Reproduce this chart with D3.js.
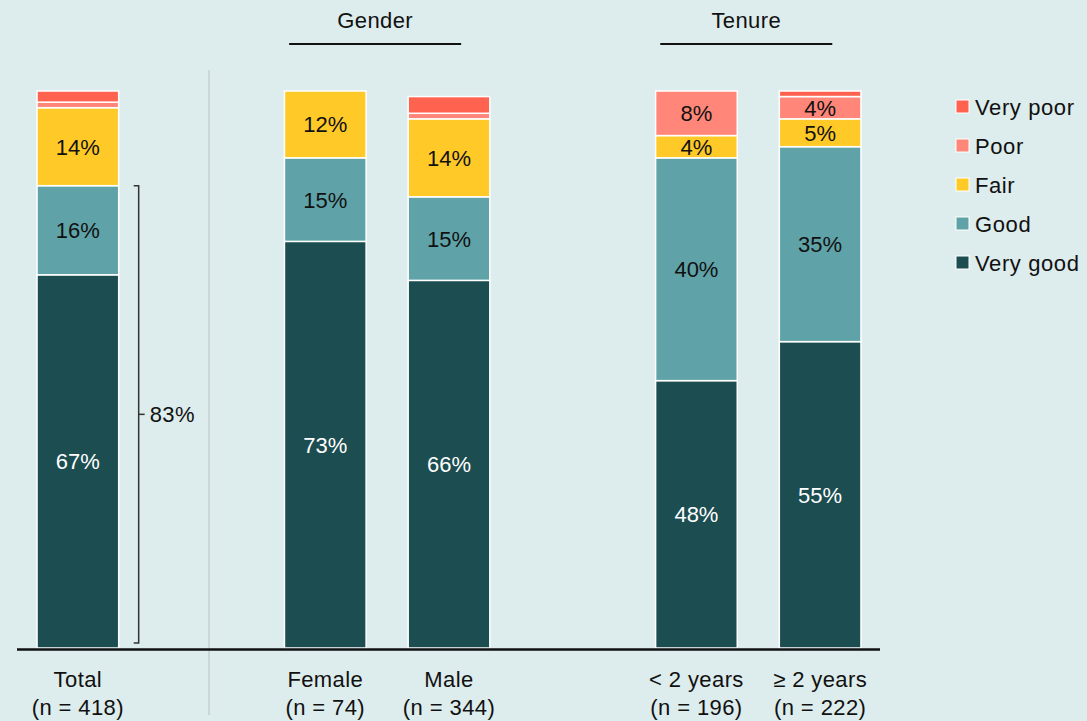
<!DOCTYPE html>
<html>
<head>
<meta charset="utf-8">
<script src="https://cdn.jsdelivr.net/npm/d3@7"></script>
<style>
  body { margin: 0; background: #ddecec; }
  svg { display: block; font-family: "Liberation Sans", Arial, sans-serif; }
</style>
</head>
<body>
<div id="chart"></div>
<script>
// groups in display order; gaps are empty slots between groups
const slots = ['Total', 'gap1', 'Female', 'Male', 'gap2', '< 2 years', '≥ 2 years'];
const categories = ['Total', 'Female', 'Male', '< 2 years', '≥ 2 years'];
const sampleSizes = ['(n = 418)', '(n = 74)', '(n = 344)', '(n = 196)', '(n = 222)'];
const levels = ['Very good', 'Good', 'Fair', 'Poor', 'Very poor'];
const veryGood = [67, 73, 66, 48, 55];
const good = [16, 15, 15, 40, 35];
const fair = [14, 12, 14, 4, 5];
const poor = [1, 0, 1, 8, 4];
const veryPoor = [2, 0, 3, 0, 1];
const colors = ['#1c4d51', '#5fa3a8', '#ffca28', '#ff8679', '#ff6350'];
const groupHeaders = [
    { label: 'Gender', from: 'Female', to: 'Male' },
    { label: 'Tenure', from: '< 2 years', to: '≥ 2 years' }
];
const bracketValue = 83;

const width = 1087, height = 721;
const svg = d3.select('#chart').append('svg')
    .attr('width', width)
    .attr('height', height);

svg.append('rect').attr('width', width).attr('height', height).attr('fill', '#ddecec');

const x = d3.scaleBand().domain(slots).range([16, 882])
    .paddingInner(0.34).paddingOuter(0.17);
const y = d3.scaleLinear().domain([0, 100]).range([648, 91]);

const series = [veryGood, good, fair, poor, veryPoor];
const rows = categories.map((c, i) => {
    const r = { cat: c };
    levels.forEach((l, j) => r[l] = series[j][i]);
    return r;
});
const stacked = d3.stack().keys(levels)(rows);

// separator between Total and groups
svg.append('line')
    .attr('x1', 209).attr('x2', 209).attr('y1', 70).attr('y2', 715)
    .attr('stroke', '#c5cfcf').attr('stroke-width', 1.5);

const layer = svg.append('g').selectAll('g')
    .data(stacked)
    .enter().append('g')
    .attr('fill', (d, i) => colors[i]);

layer.selectAll('rect')
    .data(d => d.filter(s => s[1] - s[0] > 0))
    .enter().append('rect')
    .attr('x', d => x(d.data.cat))
    .attr('y', d => y(d[1]))
    .attr('width', x.bandwidth())
    .attr('height', d => y(d[0]) - y(d[1]))
    .attr('stroke', '#fff')
    .attr('stroke-width', 1.5);

stacked.forEach((s, i) => {
    svg.append('g').selectAll('text')
        .data(s.filter(d => d[1] - d[0] >= 4))
        .enter().append('text')
        .attr('x', d => x(d.data.cat) + x.bandwidth() / 2)
        .attr('y', d => y((d[0] + d[1]) / 2))
        .attr('dy', '0.36em')
        .attr('text-anchor', 'middle')
        .attr('font-size', 22)
        .attr('fill', i === 0 ? '#fff' : '#111')
        .text(d => (d[1] - d[0]) + '%');
});

// baseline
svg.append('line')
    .attr('x1', 17).attr('x2', 880).attr('y1', y(0) + 1.5).attr('y2', y(0) + 1.5)
    .attr('stroke', '#111').attr('stroke-width', 2.5);

// category labels
const lab = svg.append('g').selectAll('text')
    .data(categories)
    .enter().append('text')
    .attr('x', d => x(d) + x.bandwidth() / 2)
    .attr('text-anchor', 'middle')
    .attr('font-size', 22)
    .attr('letter-spacing', 0.4)
    .attr('fill', '#111');
lab.append('tspan').attr('x', d => x(d) + x.bandwidth() / 2).attr('y', 687).text(d => d);
lab.append('tspan').attr('x', d => x(d) + x.bandwidth() / 2).attr('y', 715).text((d, i) => sampleSizes[i]);

// group headers
groupHeaders.forEach(g => {
    const cx = (x(g.from) + x(g.to) + x.bandwidth()) / 2 - 12;
    svg.append('text')
        .attr('x', cx).attr('y', 28)
        .attr('text-anchor', 'middle')
        .attr('font-size', 22)
        .attr('letter-spacing', 0.4)
        .attr('fill', '#111')
        .text(g.label);
    svg.append('line')
        .attr('x1', cx - 86).attr('x2', cx + 86).attr('y1', 44).attr('y2', 44)
        .attr('stroke', '#111').attr('stroke-width', 2);
});

// bracket for Very good + Good on Total
const bx = x('Total') + x.bandwidth() + 20;
const bTop = y(bracketValue), bBot = y(0) - 5;
svg.append('path')
    .attr('d', `M${bx - 5},${bTop}H${bx}V${bBot}H${bx - 5}`)
    .attr('fill', 'none').attr('stroke', '#333').attr('stroke-width', 1.5);
svg.append('line')
    .attr('x1', bx).attr('x2', bx + 6)
    .attr('y1', (bTop + bBot) / 2).attr('y2', (bTop + bBot) / 2)
    .attr('stroke', '#333').attr('stroke-width', 1.5);
svg.append('text')
    .attr('x', bx + 11).attr('y', (bTop + bBot) / 2)
    .attr('dy', '0.36em')
    .attr('font-size', 22)
    .attr('letter-spacing', 0.4)
    .attr('fill', '#111')
    .text(bracketValue + '%');

// legend, top to bottom from worst to best
const legendOrder = levels.slice().reverse();
const legend = svg.append('g').selectAll('g')
    .data(legendOrder)
    .enter().append('g')
    .attr('transform', (d, i) => `translate(956,${107 + i * 39})`);
legend.append('rect')
    .attr('x', 0).attr('y', -7).attr('width', 13).attr('height', 13)
    .attr('fill', d => colors[levels.indexOf(d)])
    .attr('stroke', '#fff').attr('stroke-width', 1);
legend.append('text')
    .attr('x', 19).attr('dy', '0.36em')
    .attr('font-size', 22)
    .attr('letter-spacing', 0.6)
    .attr('fill', '#111')
    .text(d => d);
</script>
</body>
</html>
